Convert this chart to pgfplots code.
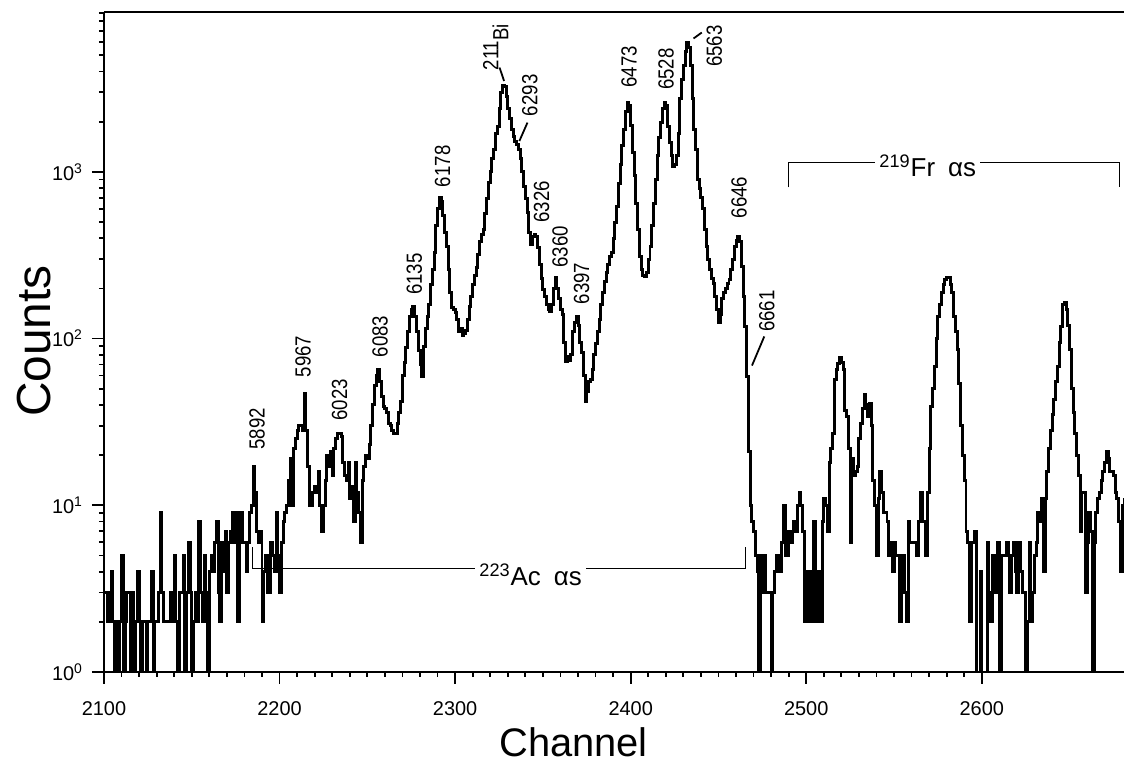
\documentclass[border=0pt]{standalone}
\usepackage{fontspec}
\setmainfont{Liberation Sans}
\newfontfamily\narrow{Liberation Sans}[FakeStretch=0.85]
\usepackage{pgfplots}
\usepackage{pgfplotstable}
\pgfplotsset{compat=1.18}

% counts per channel (0 counts drawn at 1)
\pgfplotstableread{
ch counts
2100 3
2101 3
2102 2
2103 3
2104 4
2105 2
2106 1
2107 2
2108 1
2109 2
2110 5
2111 1
2112 2
2113 3
2114 3
2115 1
2116 3
2117 1
2118 2
2119 4
2120 2
2121 1
2122 2
2123 2
2124 1
2125 2
2126 2
2127 4
2128 1
2129 2
2130 2
2131 3
2132 9
2133 3
2134 2
2135 2
2136 2
2137 2
2138 3
2139 2
2140 5
2141 2
2142 1
2143 3
2144 3
2145 5
2146 1
2147 3
2148 6
2149 3
2150 1
2151 2
2152 3
2153 2
2154 8
2155 3
2156 2
2157 5
2158 3
2159 1
2160 4
2161 5
2162 4
2163 6
2164 8
2165 3
2166 2
2167 6
2168 4
2169 7
2170 3
2171 6
2172 7
2173 9
2174 6
2175 9
2176 2
2177 6
2178 9
2179 6
2180 6
2181 4
2182 6
2183 9
2184 10
2185 17
2186 12
2187 7
2188 6
2189 7
2190 2
2191 4
2192 5
2193 3
2194 3
2195 6
2196 5
2197 4
2198 9
2199 5
2200 3
2201 6
2202 8
2203 9
2204 10
2205 14
2206 19
2207 10
2208 22
2209 25
2210 28
2211 30
2212 30
2213 28
2214 47
2215 28
2216 17
2217 10
2218 10
2219 12
2220 13
2221 12
2222 16
2223 10
2224 7
2225 10
2226 14
2227 20
2228 17
2229 21
2230 15
2231 22
2232 25
2233 27
2234 27
2235 26
2236 18
2237 15
2238 14
2239 18
2240 11
2241 13
2242 8
2243 18
2244 12
2245 9
2246 6
2247 14
2248 17
2249 20
2250 19
2251 23
2252 30
2253 40
2254 52
2255 60
2256 65
2257 55
2258 45
2259 39
2260 38
2261 36
2262 31
2263 30
2264 28
2265 27
2266 27
2267 31
2268 36
2269 42
2270 60
2271 72
2272 89
2273 110
2274 135
2275 150
2276 155
2277 135
2278 110
2279 85
2280 70
2281 59
2282 90
2283 115
2284 135
2285 160
2286 210
2287 260
2288 330
2289 480
2290 600
2291 700
2292 660
2293 550
2294 430
2295 356
2296 260
2297 190
2298 154
2299 150
2300 143
2301 130
2302 110
2303 115
2304 105
2305 108
2306 112
2307 130
2308 156
2309 180
2310 210
2311 240
2312 267
2313 320
2314 380
2315 420
2316 454
2317 560
2318 690
2319 868
2320 1000
2321 1200
2322 1370
2323 1700
2324 1870
2325 2400
2326 3000
2327 3300
2328 3250
2329 2850
2330 2400
2331 2080
2332 1800
2333 1620
2334 1530
2335 1450
2336 1370
2337 1200
2338 1000
2339 820
2340 690
2341 570
2342 430
2343 365
2344 410
2345 420
2346 410
2347 350
2348 280
2349 230
2350 198
2351 180
2352 160
2353 150
2354 145
2355 160
2356 200
2357 232
2358 200
2359 175
2360 150
2361 140
2362 95
2363 73
2364 78
2365 74
2366 80
2367 110
2368 125
2369 135
2370 120
2371 95
2372 82
2373 60
2374 42
2375 48
2376 55
2377 57
2378 65
2379 80
2380 94
2381 110
2382 130
2383 160
2384 189
2385 220
2386 250
2387 280
2388 310
2389 330
2390 400
2391 500
2392 620
2393 850
2394 1100
2395 1430
2396 1800
2397 2300
2398 2610
2399 2500
2400 1900
2401 1300
2402 950
2403 650
2404 450
2405 310
2406 260
2407 240
2408 235
2409 250
2410 300
2411 355
2412 480
2413 650
2414 900
2415 1250
2416 1600
2417 1980
2418 2400
2419 2610
2420 2500
2421 1870
2422 1500
2423 1250
2424 1080
2425 1100
2426 1250
2427 1700
2428 2750
2429 3600
2430 4330
2431 5300
2432 5990
2433 5600
2434 4330
2435 2750
2436 1800
2437 1370
2438 900
2439 800
2440 700
2441 600
2442 450
2443 355
2444 300
2445 260
2446 230
2447 215
2448 180
2449 150
2450 125
2451 140
2452 175
2453 189
2454 200
2455 215
2456 225
2457 260
2458 300
2459 355
2460 390
2461 410
2462 380
2463 270
2464 180
2465 118
2466 59
2467 21
2468 10
2469 8
2470 7
2471 5
2472 4
2473 1
2474 5
2475 3
2476 5
2477 3
2478 3
2479 3
2480 1
2481 3
2482 4
2483 5
2484 4
2485 4
2486 6
2487 10
2488 5
2489 5
2490 7
2491 6
2492 7
2493 8
2494 7
2495 10
2496 12
2497 10
2498 7
2499 2
2500 4
2501 2
2502 4
2503 2
2504 8
2505 4
2506 2
2507 4
2508 2
2509 8
2510 11
2511 10
2512 7
2513 18
2514 22
2515 27
2516 57
2517 65
2518 71
2519 77
2520 72
2521 65
2522 37
2523 34
2524 22
2525 6
2526 19
2527 15
2528 16
2529 17
2530 25
2531 31
2532 38
2533 46
2534 40
2535 34
2536 41
2537 30
2538 14
2539 10
2540 5
2541 11
2542 16
2543 12
2544 9
2545 9
2546 8
2547 5
2548 6
2549 4
2550 6
2551 5
2552 5
2553 2
2554 5
2555 5
2556 3
2557 2
2558 8
2559 6
2560 6
2561 6
2562 6
2563 5
2564 8
2565 12
2566 8
2567 8
2568 5
2569 12
2570 22
2571 39
2572 50
2573 68
2574 100
2575 135
2576 160
2577 189
2578 210
2579 225
2580 232
2581 232
2582 210
2583 189
2584 135
2585 110
2586 86
2587 54
2588 30
2589 20
2590 14
2591 7
2592 6
2593 2
2594 6
2595 6
2596 7
2597 1
2598 1
2599 4
2600 1
2601 1
2602 1
2603 6
2604 3
2605 2
2606 5
2607 4
2608 3
2609 6
2610 1
2611 5
2612 5
2613 5
2614 6
2615 5
2616 3
2617 5
2618 6
2619 4
2620 3
2621 6
2622 4
2623 3
2624 3
2625 1
2626 2
2627 6
2628 2
2629 3
2630 5
2631 6
2632 9
2633 8
2634 11
2635 4
2636 11
2637 16
2638 22
2639 28
2640 35
2641 43
2642 55
2643 68
2644 95
2645 118
2646 160
2647 165
2648 150
2649 120
2650 86
2651 50
2652 36
2653 27
2654 20
2655 15
2656 7
2657 12
2658 12
2659 3
2660 6
2661 9
2662 7
2663 1
2664 6
2665 9
2666 11
2667 12
2668 14
2669 16
2670 18
2671 21
2672 19
2673 16
2674 16
2675 15
2676 12
2677 11
2678 8
2679 4
2680 10
2681 11
}\spectrum

\begin{document}
\begin{tikzpicture}
\begin{axis}[
  name=ax,
  scale only axis,
  width=510bp, height=330bp,
  xmin=2100, xmax=2681,
  ymode=log, ymin=1, ymax=9100,
  axis x line*=box, axis y line*=left,
  xtick pos=lower,
  axis line style={line width=1.1pt,-},
  every tick/.style={black,line width=0.9pt},
  tick align=outside,
  major tick length=6bp, minor tick length=2.5bp,
  xtick={2100,2200,2300,2400,2500,2600},
  xticklabels={2100,2200,2300,2400,2500,2600},
  minor x tick num=9,
  ytick={1,10,100,1000},
  yticklabels={10\textsuperscript{0},10\textsuperscript{1},10\textsuperscript{2},10\textsuperscript{3}},
  minor ytick={2,3,...,9,20,30,...,90,200,300,...,900,2000,3000,...,9000},
  ticklabel style={font=\fontsize{10}{12}\selectfont},
  xticklabel style={yshift=-5.5bp},
  yticklabel style={xshift=-1bp},
  clip mode=individual,
]
\addplot[const plot, black, line width=1.5pt] table[x=ch, y=counts] {\spectrum};

% peak energies (keV)
\begin{scope}[every node/.style={rotate=90, font=\narrow\fontsize{11}{13}\selectfont, inner sep=0pt}]
\node at (axis cs:2187.2,28.8) {5892};
\node at (axis cs:2213.4,78) {5967};
\node at (axis cs:2234.2,43) {6023};
\node at (axis cs:2257.3,103) {6083};
\node at (axis cs:2276.7,244) {6135};
\node at (axis cs:2292.9,1080) {6178};
\node at (axis cs:2323.1,5594) {\raisebox{5bp}{211}Bi};
\node at (axis cs:2342.5,2880) {6293};
\node at (axis cs:2349.3,661) {6326};
\node at (axis cs:2359.8,355) {6360};
\node at (axis cs:2372.1,214) {6397};
\node at (axis cs:2399.1,4273) {6473};
\node at (axis cs:2420.2,4130) {6528};
\node at (axis cs:2447.6,5675) {6563};
\node at (axis cs:2461.8,703) {6646};
\node at (axis cs:2477.5,146) {6661};
\end{scope}
\draw[line width=0.9pt] (axis cs:2325.3,4225) -- (axis cs:2327.9,3510);
\draw[line width=0.9pt] (axis cs:2341.2,1975) -- (axis cs:2336.6,1531);
\draw[line width=0.9pt] (axis cs:2435.8,6310) -- (axis cs:2440.5,6855);
\draw[line width=0.9pt] (axis cs:2476.1,103) -- (axis cs:2469.1,68.9);

% element brackets
\draw[line width=0.6pt] (axis cs:2184.7,5.6) -- (axis cs:2184.7,4.2) -- (axis cs:2465.2,4.2) -- (axis cs:2465.2,5.6);
\node[fill=white, inner sep=2pt, anchor=base, font=\fontsize{13}{15}\selectfont] at (axis cs:2343,3.3) {\textsuperscript{223}Ac\hspace{0.5em}αs};
\draw[line width=0.6pt] (axis cs:2489.7,807) -- (axis cs:2489.7,1140) -- (axis cs:2678.3,1140) -- (axis cs:2678.3,807);
\node[fill=white, inner sep=2pt, anchor=base, font=\fontsize{13}{15}\selectfont] at (axis cs:2569.2,940) {\textsuperscript{219}Fr\hspace{0.5em}αs};
\end{axis}
\node[rotate=90, font=\fontsize{24}{28}\selectfont] at ([xshift=-35bp,yshift=165.5bp]ax.south west) {Counts};
\node[anchor=base, font=\fontsize{20}{24}\selectfont] at ([xshift=234.75bp,yshift=-42bp]ax.south west) {Channel};
\pgfresetboundingbox
\useasboundingbox ([xshift=-52bp,yshift=-46.5bp]ax.south west) rectangle ([yshift=6bp]ax.north east);
\end{tikzpicture}
\end{document}
